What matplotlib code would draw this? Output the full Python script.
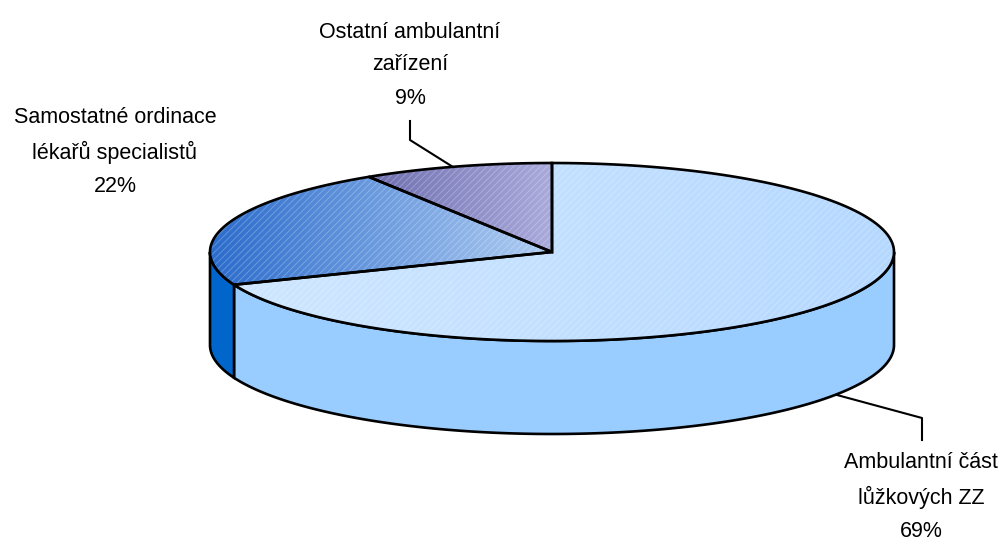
import numpy as np
import matplotlib
matplotlib.use("Agg")
import matplotlib.pyplot as plt
from matplotlib.patches import Polygon
from matplotlib.colors import LinearSegmentedColormap

# data
labels = ["Ambulantní část\nlůžkových ZZ", "Samostatné ordinace\nlékařů specialistů", "Ostatní ambulantní\nzařízení"]
values = [69, 22, 9]

# colours: top gradient (left, right), side colour
top_cols = [("#cfe7ff", "#b5d8ff"), ("#2a6bcc", "#b0cdf2"), ("#6e6eb0", "#aaaadc")]
side_cols = ["#99ccff", "#0066cc", "#6666aa"]

plt.rcParams['font.family'] = ['Liberation Sans', 'DejaVu Sans']
plt.rcParams['hatch.linewidth'] = 0.7

# geometry of the pie (pixels)
cx, cy, rx, ry, depth = 552, 252, 342, 89, 93

fig = plt.figure(figsize=(10.03, 5.41), dpi=100)
ax = fig.add_axes([0, 0, 1, 1])


def edge(t1, t2, n=200, dy=0):
    t = np.radians(np.linspace(t1, t2, n))
    return np.column_stack([cx + rx * np.cos(t), cy - ry * np.sin(t) + dy])


# slice angles, clockwise from 12 o'clock
total = sum(values)
starts = []
a = 90.0
for v in values:
    starts.append((a, a - 360.0 * v / total))
    a -= 360.0 * v / total

# sides (front half only: angles between -180 and 0)
for (a1, a2), col in zip(starts, side_cols):
    for off in (0, -360, 360):
        lo, hi = max(min(a1, a2) + off, -180), min(max(a1, a2) + off, 0)
        if hi > lo:
            top = edge(hi, lo)
            bot = edge(lo, hi, dy=depth)
            ax.add_patch(Polygon(np.vstack([top, bot]), closed=True, facecolor=col,
                                 edgecolor='black', lw=1.9, zorder=2))

# tops
for (a1, a2), (c1, c2) in zip(starts, top_cols):
    pts = np.vstack([[cx, cy], edge(a1, a2)])
    poly = Polygon(pts, closed=True, facecolor='none', edgecolor='black', lw=1.9, zorder=4)
    ax.add_patch(poly)
    xmin, xmax = pts[:, 0].min(), pts[:, 0].max()
    ymin, ymax = pts[:, 1].min(), pts[:, 1].max()
    cmap = LinearSegmentedColormap.from_list("g", [c1, c2])
    grad = np.linspace(0, 1, 256).reshape(1, -1)
    im = ax.imshow(grad, cmap=cmap, extent=[xmin, xmax, ymax, ymin], aspect='auto', zorder=3)
    im.set_clip_path(poly)
    ax.add_patch(Polygon(pts, closed=True, facecolor='none', edgecolor=(1, 1, 1, 0.25),
                         lw=0, hatch='/////', zorder=3.5))

ax.set_xlim(0, 1003)
ax.set_ylim(541, 0)
ax.axis('off')

# labels
pcts = [f"{v}%" for v in values]
lab_pos = [(921, 497), (115, 152), (410, 65)]
for lab, p, (x, y) in zip(labels, pcts, lab_pos):
    ax.text(x, y, lab + "\n" + p, ha='center', va='center', fontsize=15.5,
            linespacing=1.75, color='black', zorder=5)

# leader lines
ax.plot([410, 410, 453], [121, 140, 167], color='black', lw=1.5, zorder=5)
ax.plot([837, 922, 922], [395, 418, 440], color='black', lw=1.5, zorder=5)

fig.savefig("out.png", dpi=100)
